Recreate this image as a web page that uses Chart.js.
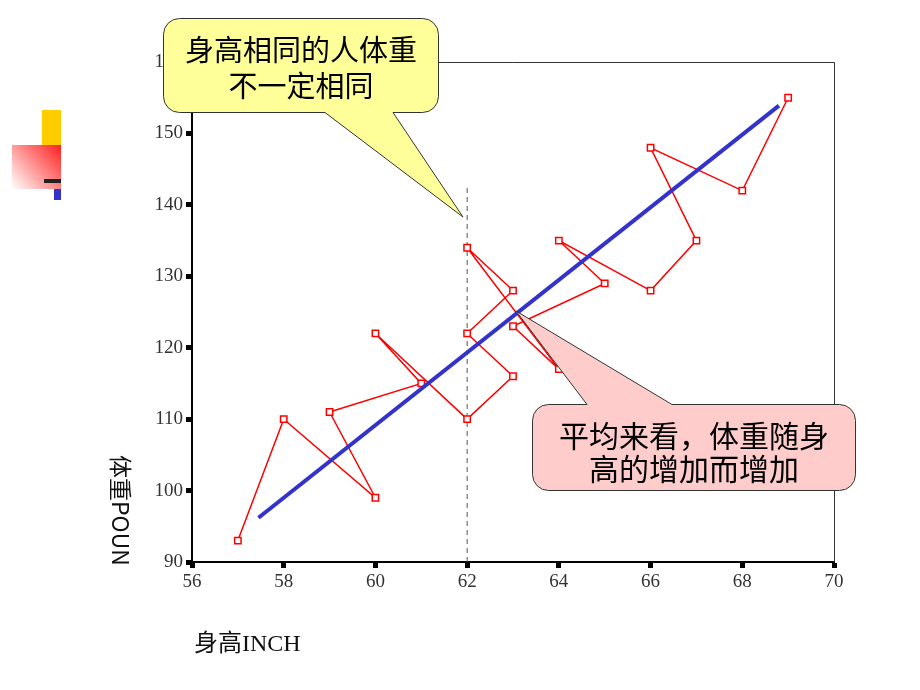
<!DOCTYPE html>
<html>
<head>
<meta charset="utf-8">
<script src="https://cdn.jsdelivr.net/npm/chart.js@4.4.1/dist/chart.umd.min.js"></script>
<style>
  body { margin: 0; background: #fff; }
  #wrap { position: relative; width: 920px; height: 690px; }
</style>
</head>
<body>
<div id="wrap"><canvas id="chart" width="920" height="690"></canvas></div>
<script>
// heights (inch) and weights (pound), in the order the red line joins them
const heights = [57, 58, 60, 59, 61, 60, 62, 63, 62, 63, 62, 64, 63, 65, 64, 66, 67, 66, 68, 69];
const weights = [93, 110, 99, 111, 115, 122, 110, 116, 122, 128, 134, 117, 123, 129, 135, 128, 135, 148, 142, 155];

// fitted line end points
const fitX = [57.45, 68.8];
const fitY = [96.2, 153.9];

// dashed guide at 62 inch
const guideX = [62, 62];
const guideY = [90, 142.6];

const xTicks = [56, 58, 60, 62, 64, 66, 68, 70];
const yTicks = [90, 100, 110, 120, 130, 140, 150, 160];

const calloutTop = ['身高相同的人体重', '不一定相同'];
const calloutBottom = ['平均来看，体重随身', '高的增加而增加'];
const xTitle = '身高INCH';
const yTitle = '体重POUN';

const cjk = '"Noto Sans CJK SC", "Noto Sans", sans-serif';

function balloon(ctx, box, r, edge, b0, b1, tip, fill) {
  const [x0, y0, x1, y1] = box;
  ctx.beginPath();
  ctx.moveTo(x0 + r, y0);
  if (edge === 'top') {
    ctx.lineTo(b0, y0);
    ctx.lineTo(tip[0], tip[1]);
    ctx.lineTo(b1, y0);
  }
  ctx.lineTo(x1 - r, y0);
  ctx.arcTo(x1, y0, x1, y0 + r, r);
  ctx.lineTo(x1, y1 - r);
  ctx.arcTo(x1, y1, x1 - r, y1, r);
  if (edge === 'bottom') {
    ctx.lineTo(b1, y1);
    ctx.lineTo(tip[0], tip[1]);
    ctx.lineTo(b0, y1);
  }
  ctx.lineTo(x0 + r, y1);
  ctx.arcTo(x0, y1, x0, y1 - r, r);
  ctx.lineTo(x0, y0 + r);
  ctx.arcTo(x0, y0, x0 + r, y0, r);
  ctx.closePath();
  ctx.fillStyle = fill;
  ctx.fill();
  ctx.strokeStyle = '#333';
  ctx.lineWidth = 1;
  ctx.stroke();
}

const extras = {
  id: 'extras',
  beforeDraw(chart) {
    const ctx = chart.ctx;
    ctx.save();
    ctx.fillStyle = '#fff';
    ctx.fillRect(0, 0, chart.width, chart.height);
    // slide decoration on the left
    ctx.fillStyle = '#ffcc00';
    ctx.fillRect(42, 110, 19, 36);
    const g = ctx.createLinearGradient(61, 145, 12, 189);
    g.addColorStop(0, '#ff2020');
    g.addColorStop(1, '#ffffff');
    ctx.fillStyle = g;
    ctx.fillRect(12, 145, 49, 44);
    ctx.fillStyle = '#222';
    ctx.fillRect(44, 179, 17, 4);
    ctx.fillStyle = '#3333cc';
    ctx.fillRect(54, 189, 7, 11);
    ctx.restore();
  },
  afterDraw(chart) {
    const ctx = chart.ctx;
    const a = chart.chartArea;
    ctx.save();
    // top and right frame
    ctx.strokeStyle = '#333';
    ctx.lineWidth = 1;
    ctx.beginPath();
    ctx.moveTo(a.left, a.top + 0.5);
    ctx.lineTo(a.right + 0.5, a.top + 0.5);
    ctx.lineTo(a.right + 0.5, a.bottom);
    ctx.stroke();

    // axis titles
    ctx.fillStyle = '#111';
    ctx.font = '24px "Liberation Serif", ' + cjk;
    ctx.textBaseline = 'middle';
    ctx.textAlign = 'left';
    ctx.fillText(xTitle, 194, 645);
    ctx.save();
    ctx.translate(121, 455);
    ctx.rotate(Math.PI / 2);
    ctx.font = '23px ' + cjk;
    ctx.textAlign = 'left';
    ctx.fillText(yTitle, 0, 0);
    ctx.restore();

    // callouts
    balloon(ctx, [163.5, 18.5, 438.5, 112.5], 16, 'bottom', 325, 393, [463, 217], '#ffff99');
    balloon(ctx, [532.5, 404.5, 855.5, 490.5], 16, 'top', 587, 672, [516, 311], '#ffcccc');
    ctx.fillStyle = '#000';
    ctx.font = '29px ' + cjk;
    ctx.textAlign = 'center';
    ctx.fillText(calloutTop[0], 301, 50);
    ctx.fillText(calloutTop[1], 301, 86);
    ctx.font = '30px ' + cjk;
    ctx.fillText(calloutBottom[0], 694, 436);
    ctx.fillText(calloutBottom[1], 694, 469);
    ctx.restore();
  }
};

const tickFont = { family: '"Liberation Serif", "DejaVu Serif", serif', size: 19 };

new Chart(document.getElementById('chart'), {
  type: 'scatter',
  data: {
    datasets: [
      {
        label: 'guide',
        data: guideX.map((x, i) => ({ x, y: guideY[i] })),
        showLine: true,
        borderColor: '#555',
        borderWidth: 1,
        borderDash: [5, 4],
        pointRadius: 0,
        order: 3
      },
      {
        label: 'weight',
        data: heights.map((x, i) => ({ x, y: weights[i] })),
        showLine: true,
        borderColor: '#ff0000',
        borderWidth: 1.5,
        pointStyle: 'rect',
        pointRadius: 4.5,
        pointBorderColor: '#ff0000',
        pointBackgroundColor: '#fff',
        pointBorderWidth: 1.5,
        order: 2
      },
      {
        label: 'fit',
        data: fitX.map((x, i) => ({ x, y: fitY[i] })),
        showLine: true,
        borderColor: '#3333cc',
        borderWidth: 4,
        pointRadius: 0,
        order: 1
      }
    ]
  },
  options: {
    responsive: false,
    animation: false,
    devicePixelRatio: 1,
    layout: { padding: { left: 0, top: 62, right: 86, bottom: 0 } },
    plugins: { legend: { display: false }, tooltip: { enabled: false } },
    scales: {
      x: {
        type: 'linear',
        min: 56,
        max: 70,
        afterBuildTicks: axis => { axis.ticks = xTicks.map(v => ({ value: v })); },
        afterFit: axis => { axis.height = 128; },
        ticks: { color: '#333', font: tickFont, padding: 3 },
        grid: { drawOnChartArea: false, tickLength: 6, tickWidth: 5, tickColor: '#000' },
        border: { color: '#000', width: 2 }
      },
      y: {
        min: 90,
        max: 160,
        afterBuildTicks: axis => { axis.ticks = yTicks.map(v => ({ value: v })); },
        afterFit: axis => { axis.width = 192; },
        ticks: { color: '#333', font: tickFont, padding: 3 },
        grid: { drawOnChartArea: false, tickLength: 6, tickWidth: 5, tickColor: '#000' },
        border: { color: '#000', width: 2 }
      }
    }
  },
  plugins: [extras]
});
</script>
</body>
</html>
